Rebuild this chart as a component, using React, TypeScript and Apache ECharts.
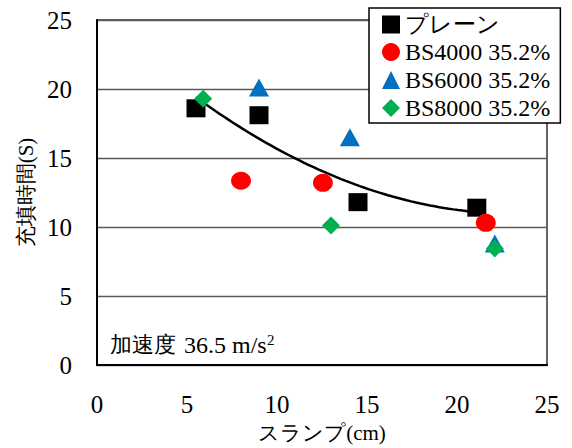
import React, { useEffect, useRef } from "react";
import * as echarts from "echarts";

const xTicks = [0, 5, 10, 15, 20, 25];
const yTicks = [0, 5, 10, 15, 20, 25];

const plainX = [5.5, 9.0, 14.5, 21.1];
const plainY = [18.6, 18.1, 11.8, 11.4];
const bs4000X = [8.0, 12.55, 21.6];
const bs4000Y = [13.35, 13.2, 10.3];
const bs6000X = [9.0, 14.05, 22.1];
const bs6000Y = [20.1, 16.5, 8.8];
const bs8000X = [5.9, 13.0, 22.1];
const bs8000Y = [19.3, 10.1, 8.45];

const seriesNames = ["プレーン", "BS4000 35.2%", "BS6000 35.2%", "BS8000 35.2%"];

const SERIF = "Liberation Serif";

// polynomial (order 2) least-squares trendline of the プレーン series
function quadFit(xs: number[], ys: number[]) {
  const n = xs.length;
  let s1 = 0, s2 = 0, s3 = 0, s4 = 0, t0 = 0, t1 = 0, t2 = 0;
  for (let i = 0; i < n; i++) {
    const x = xs[i], y = ys[i];
    s1 += x; s2 += x * x; s3 += x * x * x; s4 += x * x * x * x;
    t0 += y; t1 += x * y; t2 += x * x * y;
  }
  const M = [
    [n, s1, s2, t0],
    [s1, s2, s3, t1],
    [s2, s3, s4, t2],
  ];
  for (let c = 0; c < 3; c++) {
    for (let r = c + 1; r < 3; r++) {
      const f = M[r][c] / M[c][c];
      for (let k = c; k < 4; k++) M[r][k] -= f * M[c][k];
    }
  }
  const coef = [0, 0, 0];
  for (let r = 2; r >= 0; r--) {
    let s = M[r][3];
    for (let k = r + 1; k < 3; k++) s -= M[r][k] * coef[k];
    coef[r] = s / M[r][r];
  }
  return coef;
}

const zip = (xs: number[], ys: number[]) => xs.map((x, i) => [x, ys[i]]);

function forceSerif(root: HTMLElement) {
  root.querySelectorAll("text, tspan").forEach((el) => {
    (el as SVGElement).style.fontFamily = `"${SERIF}", serif`;
  });
}

export default function App() {
  const ref = useRef<HTMLDivElement>(null);
  useEffect(() => {
    if (!ref.current) return;
    const chart = echarts.init(ref.current, null, { renderer: "svg" });
    const [a, b, c] = quadFit(plainX, plainY);
    const x0 = Math.min(...plainX);
    const x1 = Math.max(...plainX);
    const trend: number[][] = [];
    const steps = 60;
    for (let i = 0; i <= steps; i++) {
      const x = x0 + ((x1 - x0) * i) / steps;
      trend.push([x, a + b * x + c * x * x]);
    }
    chart.setOption({
      animation: false,
      backgroundColor: "#fff",
      textStyle: { fontFamily: SERIF },
      grid: {
        left: 97,
        top: 20,
        width: 450,
        height: 349,
        show: true,
        borderColor: "#333",
        borderWidth: 1.5,
      },
      xAxis: {
        type: "value",
        min: xTicks[0],
        max: xTicks[xTicks.length - 1],
        interval: 5,
        name: "スランプ(cm)",
        nameLocation: "middle",
        nameGap: 57,
        nameTextStyle: { fontFamily: SERIF, fontSize: 21, color: "#000" },
        axisLine: { show: true, lineStyle: { color: "#000", width: 2 } },
        axisTick: { show: false },
        axisLabel: { fontFamily: SERIF, fontSize: 25, color: "#000", margin: 27 },
        splitLine: { show: false },
      },
      yAxis: {
        type: "value",
        min: yTicks[0],
        max: yTicks[yTicks.length - 1],
        interval: 5,
        name: "充填時間(S)",
        nameLocation: "middle",
        nameGap: 48,
        nameTextStyle: { fontFamily: SERIF, fontSize: 21, color: "#000" },
        axisLine: { show: true, lineStyle: { color: "#000", width: 2 } },
        axisTick: { show: false },
        axisLabel: { fontFamily: SERIF, fontSize: 25, color: "#000", margin: 25 },
        splitLine: { show: true, lineStyle: { color: "#595959", width: 1.3 } },
      },
      legend: {
        data: [
          { name: seriesNames[0], textStyle: { fontFamily: SERIF, fontSize: 23, color: "#000" } },
          seriesNames[1],
          seriesNames[2],
          seriesNames[3],
        ],
        orient: "vertical",
        left: 369,
        top: 8,
        itemWidth: 18,
        itemHeight: 18,
        itemGap: 4,
        padding: [5, 10, 3, 13],
        borderColor: "#000",
        borderWidth: 1.5,
        backgroundColor: "#fff",
        textStyle: { fontFamily: SERIF, fontSize: 24, color: "#000" },
      },
      graphic: [
        {
          type: "text",
          left: 110,
          top: 333,
          style: { text: "加速度", fontFamily: SERIF, fontSize: 22, fill: "#000" },
        },
        {
          type: "text",
          left: 184,
          top: 333,
          style: { text: "36.5 m/s", fontFamily: SERIF, fontSize: 24, fill: "#000" },
        },
        {
          type: "text",
          left: 267,
          top: 332,
          style: { text: "2", fontFamily: SERIF, fontSize: 15, fill: "#000" },
        },
      ],
      series: [
        {
          name: seriesNames[0],
          type: "scatter",
          symbol: "rect",
          symbolSize: [19, 18],
          itemStyle: { color: "#000", opacity: 1 },
          data: zip(plainX, plainY),
          z: 2,
        },
        {
          name: "trend",
          type: "line",
          data: trend,
          showSymbol: false,
          symbol: "none",
          lineStyle: { color: "#000", width: 2.5 },
          z: 3,
        },
        {
          name: seriesNames[1],
          type: "scatter",
          symbol: "circle",
          symbolSize: [20, 18],
          itemStyle: { color: "#FF0000", opacity: 1 },
          data: zip(bs4000X, bs4000Y),
          z: 4,
        },
        {
          name: seriesNames[2],
          type: "scatter",
          symbol: "triangle",
          symbolSize: [20, 18],
          itemStyle: { color: "#0070C0", opacity: 1 },
          data: zip(bs6000X, bs6000Y),
          z: 5,
        },
        {
          name: seriesNames[3],
          type: "scatter",
          symbol: "diamond",
          symbolSize: [18, 18],
          itemStyle: { color: "#00B050", opacity: 1 },
          data: zip(bs8000X, bs8000Y),
          z: 6,
        },
      ],
    });
    const root = ref.current;
    forceSerif(root);
    const onRendered = () => forceSerif(root);
    chart.on("finished", onRendered);
    return () => {
      chart.off("finished", onRendered);
      chart.dispose();
    };
  }, []);
  return (
    <div style={{ position: "fixed", left: 0, top: 0 }}>
      <div ref={ref} style={{ width: 572, height: 448, background: "#fff" }} />
    </div>
  );
}
